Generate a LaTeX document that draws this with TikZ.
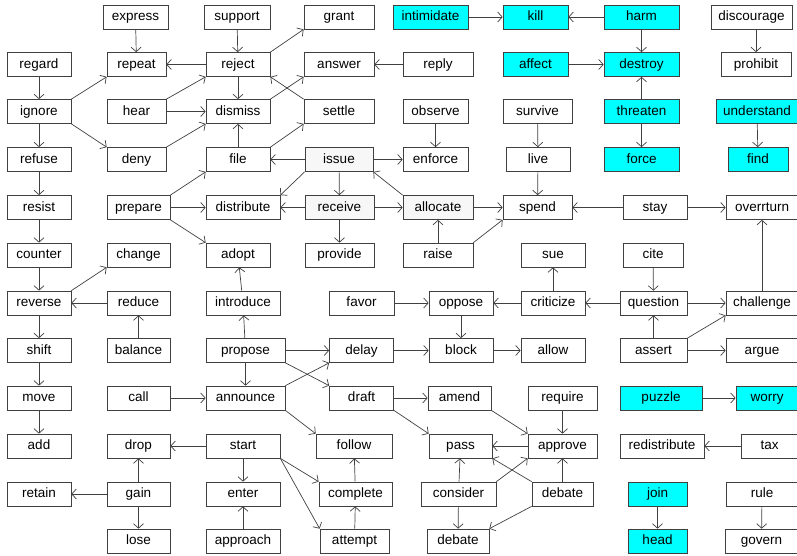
\documentclass[tikz,border=0pt]{standalone}
\usepackage{fontspec}
\setmainfont{Liberation Sans}
\usetikzlibrary{arrows.meta}
\definecolor{cyanfill}{RGB}{0,255,255}
\definecolor{grayfill}{RGB}{247,247,247}

\begin{document}
\begin{tikzpicture}[x=1pt, y=-1pt,
		box/.style={draw=black!75, line width=0.7pt, minimum height=24pt, inner sep=0pt, text height=9.5pt, text depth=2.5pt, font=\fontsize{13.5}{16}\selectfont},
		hot/.style={box, fill=cyanfill},
		lit/.style={box, fill=grayfill},
		conn/.style={draw=black!75, line width=0.7pt, -{Straight Barb[length=4.5pt,width=10pt]}}]
		%%%%% START %%%%%
		
		\useasboundingbox (0,0) rectangle (797,555);
		
		% row 1
		\node[box, minimum width=65pt] (express) at (135.5,17) {express};
		\node[box, minimum width=66pt] (support) at (237,17) {support};
		\node[box, minimum width=70pt] (grant) at (339,17) {grant};
		\node[hot, minimum width=75pt] (intimidate) at (430.5,17) {intimidate};
		\node[hot, minimum width=65pt] (kill) at (535.5,17) {kill};
		\node[hot, minimum width=75pt] (harm) at (641.5,17) {harm};
		\node[box, minimum width=81pt] (discourage) at (751.5,17) {discourage};
		
		% row 2
		\node[box, minimum width=64pt] (regard) at (39,64.5) {regard};
		\node[box, minimum width=59pt] (repeat) at (136.5,64.5) {repeat};
		\node[box, minimum width=64pt] (reject) at (238,64.5) {reject};
		\node[box, minimum width=70pt] (answer) at (339,64.5) {answer};
		\node[box, minimum width=70pt] (reply) at (438,64.5) {reply};
		\node[hot, minimum width=65pt] (affect) at (535.5,64.5) {affect};
		\node[hot, minimum width=75pt] (destroy) at (641.5,64.5) {destroy};
		\node[box, minimum width=70pt] (prohibit) at (756,64.5) {prohibit};
		
		% row 3
		\node[box, minimum width=64pt] (ignore) at (39,111.5) {ignore};
		\node[box, minimum width=59pt] (hear) at (136.5,111.5) {hear};
		\node[box, minimum width=64pt] (dismiss) at (238,111.5) {dismiss};
		\node[box, minimum width=70pt] (settle) at (339,111.5) {settle};
		\node[box, minimum width=65pt] (observe) at (435.5,111.5) {observe};
		\node[box, minimum width=69pt] (survive) at (537.5,111.5) {survive};
		\node[hot, minimum width=75pt] (threaten) at (641.5,111.5) {threaten};
		\node[hot, minimum width=82pt] (understand) at (757,111.5) {understand};
		
		% row 4
		\node[box, minimum width=64pt] (refuse) at (39,159.5) {refuse};
		\node[box, minimum width=59pt] (deny) at (136.5,159.5) {deny};
		\node[box, minimum width=64pt] (file) at (238,159.5) {file};
		\node[lit, minimum width=68pt] (issue) at (339,159.5) {issue};
		\node[box, minimum width=65pt] (enforce) at (435.5,159.5) {enforce};
		\node[box, minimum width=64pt] (live) at (538,159.5) {live};
		\node[hot, minimum width=75pt] (force) at (641.5,159.5) {force};
		\node[hot, minimum width=60pt] (find) at (758,159.5) {find};
		
		% row 5
		\node[box, minimum width=64pt] (resist) at (39,207.5) {resist};
		\node[box, minimum width=63pt] (prepare) at (138.5,207.5) {prepare};
		\node[box, minimum width=74pt] (distribute) at (243,207.5) {distribute};
		\node[lit, minimum width=69pt] (receive) at (339.5,207.5) {receive};
		\node[lit, minimum width=70pt] (allocate) at (438,207.5) {allocate};
		\node[box, minimum width=69pt] (spend) at (537.5,207.5) {spend};
		\node[box, minimum width=64pt] (stay) at (655,207.5) {stay};
		\node[box, minimum width=72pt] (overrturn) at (762,207.5) {overrturn};
		
		% row 6
		\node[box, minimum width=64pt] (counter) at (39,255) {counter};
		\node[box, minimum width=63pt] (change) at (138.5,255) {change};
		\node[box, minimum width=64pt] (adopt) at (238,255) {adopt};
		\node[box, minimum width=69pt] (provide) at (339.5,255) {provide};
		\node[box, minimum width=70pt] (raise) at (438,255) {raise};
		\node[box, minimum width=64pt] (sue) at (553,255) {sue};
		\node[box, minimum width=60pt] (cite) at (653,255) {cite};
		
		% row 7
		\node[box, minimum width=64pt] (reverse) at (39,303) {reverse};
		\node[box, minimum width=63pt] (reduce) at (138.5,303) {reduce};
		\node[box, minimum width=74pt] (introduce) at (243,303) {introduce};
		\node[box, minimum width=65pt] (favor) at (361.5,303) {favor};
		\node[box, minimum width=64pt] (oppose) at (461,303) {oppose};
		\node[box, minimum width=64pt] (criticize) at (553,303) {criticize};
		\node[box, minimum width=67pt] (question) at (653.5,303) {question};
		\node[box, minimum width=72pt] (challenge) at (762,303) {challenge};
		
		% row 8
		\node[box, minimum width=64pt] (shift) at (39,350.5) {shift};
		\node[box, minimum width=63pt] (balance) at (138.5,350.5) {balance};
		\node[box, minimum width=79pt] (propose) at (245.5,350.5) {propose};
		\node[box, minimum width=64pt] (delay) at (361.5,350.5) {delay};
		\node[box, minimum width=64pt] (block) at (461,350.5) {block};
		\node[box, minimum width=64pt] (allow) at (553,350.5) {allow};
		\node[box, minimum width=67pt] (assert) at (653.5,350.5) {assert};
		\node[box, minimum width=72pt] (argue) at (762,350.5) {argue};
		
		% row 9
		\node[box, minimum width=64pt] (move) at (39,398) {move};
		\node[box, minimum width=63pt] (call) at (138.5,398) {call};
		\node[box, minimum width=79pt] (announce) at (245.5,398) {announce};
		\node[box, minimum width=64pt] (draft) at (361.5,398) {draft};
		\node[box, minimum width=63pt] (amend) at (459.5,398) {amend};
		\node[box, minimum width=69pt] (require) at (562.5,398) {require};
		\node[hot, minimum width=82pt] (puzzle) at (661,398) {puzzle};
		\node[hot, minimum width=62pt] (worry) at (767,398) {worry};
		
		% row 10
		\node[box, minimum width=64pt] (add) at (39,446) {add};
		\node[box, minimum width=63pt] (drop) at (138.5,446) {drop};
		\node[box, minimum width=74pt] (start) at (243,446) {start};
		\node[box, minimum width=76pt] (follow) at (354,446) {follow};
		\node[box, minimum width=63pt] (pass) at (460.5,446) {pass};
		\node[box, minimum width=69pt] (approve) at (562.5,446) {approve};
		\node[box, minimum width=84pt] (redistribute) at (662,446) {redistribute};
		\node[box, minimum width=57pt] (tax) at (769.5,446) {tax};
		
		% row 11
		\node[box, minimum width=64pt] (retain) at (39,494) {retain};
		\node[box, minimum width=63pt] (gain) at (138.5,494) {gain};
		\node[box, minimum width=74pt] (enter) at (243,494) {enter};
		\node[box, minimum width=73pt] (complete) at (355.5,494) {complete};
		\node[box, minimum width=75pt] (consider) at (458.5,494) {consider};
		\node[box, minimum width=61pt] (debateA) at (562.5,494) {debate};
		\node[hot, minimum width=59pt] (join) at (657.5,494) {join};
		\node[box, minimum width=72pt] (rule) at (762,494) {rule};
		
		% row 12
		\node[box, minimum width=63pt] (lose) at (138.5,541) {lose};
		\node[box, minimum width=74pt] (approach) at (243,541) {approach};
		\node[box, minimum width=69pt] (attempt) at (354.5,541) {attempt};
		\node[box, minimum width=62pt] (debateB) at (458,541) {debate};
		\node[hot, minimum width=59pt] (head) at (657.5,541) {head};
		\node[box, minimum width=73pt] (govern) at (761.5,541) {govern};
		
		% straight down / up
		\draw[conn] (express) -- (repeat);
		\draw[conn] (support) -- (reject);
		\draw[conn] (reject) -- (dismiss);
		\draw[conn] (regard) -- (ignore);
		\draw[conn] (ignore) -- (refuse);
		\draw[conn] (refuse) -- (resist);
		\draw[conn] (resist) -- (counter);
		\draw[conn] (counter) -- (reverse);
		\draw[conn] (reverse) -- (shift);
		\draw[conn] (shift) -- (move);
		\draw[conn] (move) -- (add);
		\draw[conn] (file) -- (dismiss);
		\draw[conn] (observe) -- (enforce);
		\draw[conn] (issue) -- (receive);
		\draw[conn] (receive) -- (provide);
		\draw[conn] (survive) -- (live);
		\draw[conn] (live) -- (spend);
		\draw[conn] (harm) -- (destroy);
		\draw[conn] (threaten) -- (destroy);
		\draw[conn] (threaten) -- (force);
		\draw[conn] (discourage.south -| prohibit) -- (prohibit);
		\draw[conn] (understand) -- (find);
		\draw[conn] (raise) -- (allocate);
		\draw[conn] (balance) -- (reduce);
		\draw[conn] (introduce) -- (adopt);
		\draw[conn] (propose) -- (introduce);
		\draw[conn] (propose) -- (announce);
		\draw[conn] (criticize) -- (sue);
		\draw[conn] (cite) -- (question);
		\draw[conn] (assert) -- (question);
		\draw[conn] (oppose) -- (block);
		\draw[conn] (challenge) -- (overrturn);
		\draw[conn] (require) -- (approve);
		\draw[conn] (consider) -- (pass);
		\draw[conn] (consider) -- (debateB);
		\draw[conn] (debateA) -- (approve);
		\draw[conn] (gain) -- (drop);
		\draw[conn] (gain) -- (lose);
		\draw[conn] (start) -- (enter);
		\draw[conn] (approach) -- (enter);
		\draw[conn] (attempt) -- (complete);
		\draw[conn] (complete) -- (follow);
		\draw[conn] (join) -- (head);
		\draw[conn] (rule) -- (govern);
		
		% sideways
		\draw[conn] (reject) -- (repeat);
		\draw[conn] (reply) -- (answer);
		\draw[conn] (hear) -- (dismiss);
		\draw[conn] (issue) -- (file);
		\draw[conn] (issue) -- (enforce);
		\draw[conn] (intimidate) -- (kill);
		\draw[conn] (harm) -- (kill);
		\draw[conn] (affect) -- (destroy);
		\draw[conn] (prepare) -- (distribute);
		\draw[conn] (receive) -- (distribute);
		\draw[conn] (receive) -- (allocate);
		\draw[conn] (allocate) -- (spend);
		\draw[conn] (stay) -- (spend);
		\draw[conn] (stay) -- (overrturn);
		\draw[conn] (reduce) -- (reverse);
		\draw[conn] (favor) -- (oppose);
		\draw[conn] (criticize) -- (oppose);
		\draw[conn] (question) -- (criticize);
		\draw[conn] (question) -- (challenge);
		\draw[conn] (assert) -- (argue);
		\draw[conn] (propose) -- (delay);
		\draw[conn] (delay) -- (block);
		\draw[conn] (block) -- (allow);
		\draw[conn] (call) -- (announce);
		\draw[conn] (draft) -- (amend);
		\draw[conn] (approve) -- (pass);
		\draw[conn] (puzzle) -- (worry);
		\draw[conn] (tax) -- (redistribute);
		\draw[conn] (start) -- (drop);
		\draw[conn] (gain) -- (retain);
		
		% corner to corner
		\draw[conn] (reject.north east) -- (grant.south west);
		\draw[conn] (settle.north west) -- (reject.south east);
		\draw[conn] (ignore.north east) -- (repeat.south west);
		\draw[conn] (ignore.south east) -- (deny.north west);
		\draw[conn] (hear.north east) -- (reject.south west);
		\draw[conn] (deny.north east) -- (dismiss.south west);
		\draw[conn] (dismiss.north east) -- (answer.south west);
		\draw[conn] (file.north east) -- (settle.south west);
		\draw[conn] (issue.south west) -- (distribute.north east);
		\draw[conn] (allocate.north west) -- (issue.south east);
		\draw[conn] (prepare.north east) -- (file.south west);
		\draw[conn] (prepare.south east) -- (adopt.north west);
		\draw[conn] (raise.north east) -- (spend.south west);
		\draw[conn] (reverse.north east) -- (change.south west);
		\draw[conn] (assert.north east) -- (challenge.south west);
		\draw[conn] (propose.south east) -- (draft.north west);
		\draw[conn] (announce.north east) -- (delay.south west);
		\draw[conn] (announce.south east) -- (follow.north west);
		\draw[conn] (draft.south east) -- (pass.north west);
		\draw[conn] (amend.south east) -- (approve.north west);
		\draw[conn] (consider.north east) -- (approve.south west);
		\draw[conn] (debateA.north west) -- (pass.south east);
		\draw[conn] (debateA.south west) -- (debateB.north east);
		\draw[conn] (start.south east) -- (complete.north west);
		\draw[conn] (start.south east) -- (attempt.north west);
		
		%%%%% END %%%%%
	\end{tikzpicture}
\end{document}
